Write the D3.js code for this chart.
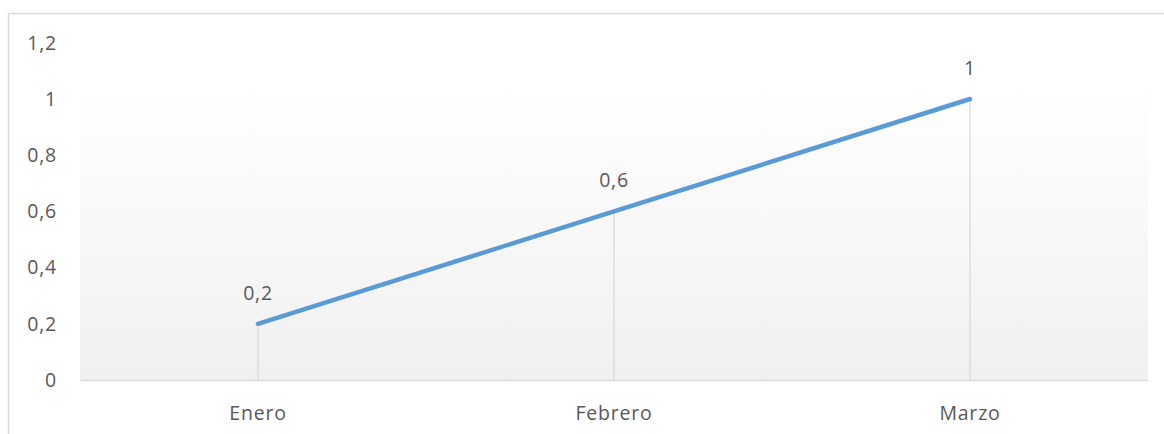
<!DOCTYPE html>
<html><head><meta charset="utf-8">
<script src="https://cdn.jsdelivr.net/npm/d3@7"></script>
<style>html,body{margin:0;padding:0;background:#fff;overflow:hidden}</style>
</head><body>
<svg id="c" width="1164" height="434"></svg>
<script>
const categories = ["Enero", "Febrero", "Marzo"];
const values = [0.2, 0.6, 1];
const yTicks = [0, 0.2, 0.4, 0.6, 0.8, 1, 1.2];

const svg = d3.select("#c");
const W = 1164, H = 434;
const plot = {left: 80, right: 1148, top: 42.8, bottom: 380};
const font = "'Open Sans', 'Noto Sans', sans-serif";
const txt = "#595959";
const fs = 19.5, ls = 0.8;

// chart border
svg.append("rect").attr("x", 8.5).attr("y", 13.5).attr("width", W + 10).attr("height", H + 10)
  .attr("fill", "#fff").attr("stroke", "#d9d9d9").attr("stroke-width", 1.5);

const x = d3.scaleBand().domain(categories).range([plot.left, plot.right]).padding(0);
const y = d3.scaleLinear().domain([0, 1.2]).range([plot.bottom, plot.top]);
const fmt = d => String(d).replace(".", ",");

// plot-area gradient
const defs = svg.append("defs");
const g = defs.append("linearGradient").attr("id", "pg").attr("x1", 0).attr("y1", 0).attr("x2", 0).attr("y2", 1);
g.append("stop").attr("offset", "0%").attr("stop-color", "#ffffff");
g.append("stop").attr("offset", "13%").attr("stop-color", "#ffffff");
g.append("stop").attr("offset", "100%").attr("stop-color", "#f0f0f0");
svg.append("rect").attr("x", plot.left).attr("y", plot.top).attr("width", plot.right - plot.left)
  .attr("height", plot.bottom - plot.top).attr("fill", "url(#pg)");

// y axis labels
const ya = svg.append("g").attr("transform", `translate(${plot.left - 23},0)`)
  .call(d3.axisLeft(y).tickValues(yTicks).tickFormat(fmt).tickSize(0).tickPadding(0));
ya.select(".domain").remove();
ya.selectAll("text").attr("font-family", font).attr("font-size", fs).attr("letter-spacing", ls).attr("fill", txt);

// drop lines
const cx = d => x(d) + x.bandwidth() / 2;
svg.selectAll(".drop").data(categories).join("line")
  .attr("x1", d => cx(d)).attr("x2", d => cx(d))
  .attr("y1", (d, i) => y(values[i])).attr("y2", y(0))
  .attr("stroke", "#d9d9d9").attr("stroke-width", 1.3);

// x axis
const xa = svg.append("g").attr("transform", `translate(0,${y(0)})`)
  .call(d3.axisBottom(x).tickSize(0).tickPadding(26));
xa.select(".domain").attr("stroke", "#d9d9d9").attr("stroke-width", 1.5);
xa.selectAll("text").attr("font-family", font).attr("font-size", fs).attr("letter-spacing", ls).attr("fill", txt);

// line
const line = d3.line().x((d, i) => cx(categories[i])).y(d => y(d));
svg.append("path").datum(values).attr("d", line).attr("fill", "none")
  .attr("stroke", "#5b9bd5").attr("stroke-width", 4.5).attr("stroke-linecap", "round").attr("stroke-linejoin", "round");

// data labels
svg.selectAll(".lbl").data(values).join("text")
  .attr("x", (d, i) => cx(categories[i])).attr("y", d => y(d) - 24)
  .attr("text-anchor", "middle").attr("font-family", font).attr("font-size", fs).attr("letter-spacing", ls).attr("fill", txt)
  .text(fmt);
</script>
</body></html>
